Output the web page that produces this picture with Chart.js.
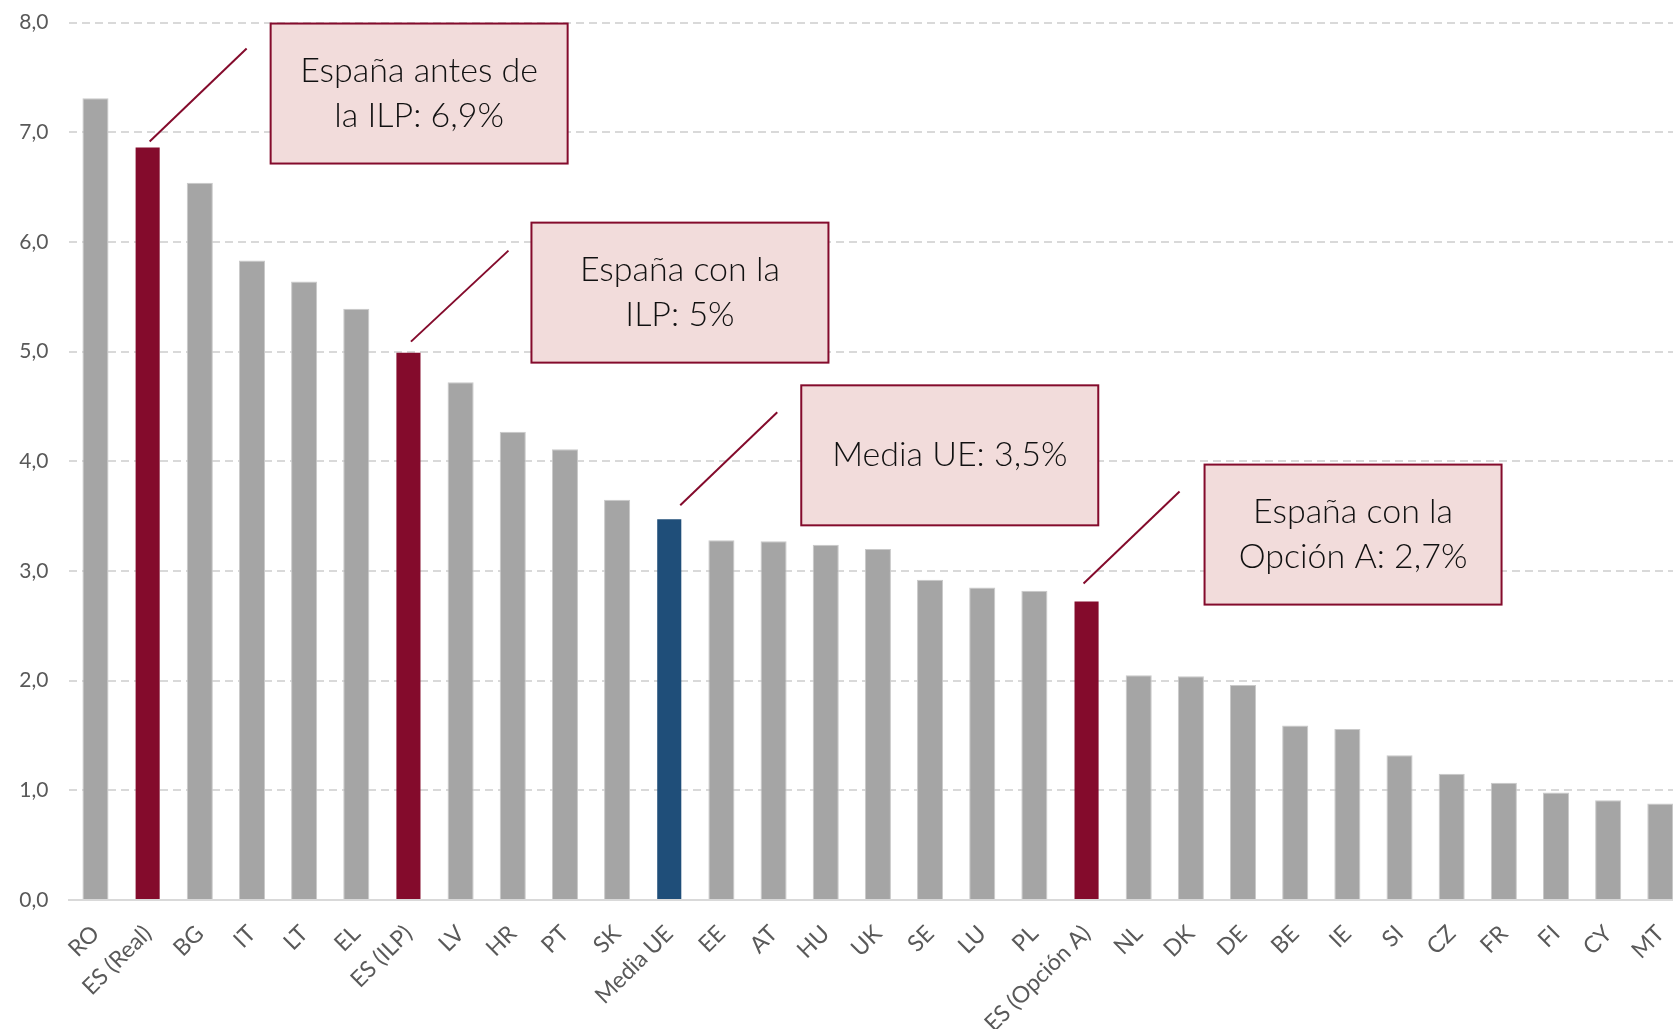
<!DOCTYPE html>
<html><head><meta charset="utf-8">
<script src="https://cdn.jsdelivr.net/npm/chart.js@4.4.1/dist/chart.umd.min.js"></script>
<style>
html,body{margin:0;padding:0;background:#fff;overflow:hidden;width:1673px;height:1029px;position:relative;}
#wrap{position:absolute;left:0;top:-11px;width:1700px;height:1040px;}
canvas{display:block;}
</style>
</head><body><div id="wrap"><canvas id="c" width="1700" height="1040" style="width:1700px;height:1040px"></canvas></div>
<script>
// ---- data ----
const categories = ['RO','ES (Real)','BG','IT','LT','EL','ES (ILP)','LV','HR','PT','SK','Media UE','EE','AT','HU','UK','SE','LU','PL','ES (Opción A)','NL','DK','DE','BE','IE','SI','CZ','FR','FI','CY','MT'];
const values = [7.31,6.87,6.54,5.83,5.64,5.39,5.00,4.72,4.27,4.11,3.65,3.48,3.28,3.27,3.24,3.20,2.92,2.85,2.82,2.73,2.05,2.04,1.96,1.59,1.56,1.32,1.15,1.07,0.98,0.91,0.88];
const yTickLabels = ['0,0','1,0','2,0','3,0','4,0','5,0','6,0','7,0','8,0'];
const spainCategories = ['ES (Real)','ES (ILP)','ES (Opción A)'];
const euCategories = ['Media UE'];
const calloutTargets = ['ES (Real)','ES (ILP)','Media UE','ES (Opción A)'];
const calloutTexts = [['España antes de','la ILP: 6,9%'],['España con la','ILP: 5%'],['Media UE: 3,5%'],['España con la','Opción A: 2,7%']];

// ---- styles ----
const RED = '#840B2C', BLUE = '#1F4E79', GRAY = '#A5A5A5';
const barColors = categories.map(c => spainCategories.includes(c) ? RED : (euCategories.includes(c) ? BLUE : GRAY));
const barBorders = categories.map(c => (spainCategories.includes(c) || euCategories.includes(c)) ? 'rgba(0,0,0,0)' : '#C9C9C9');
const calloutLayout = [
  {boxDx:123, boxDy:-123, from:[99,-98],  to:[2,-5]},
  {boxDx:123, boxDy:-129, from:[100,-101], to:[2.5,-10]},
  {boxDx:132, boxDy:-133, from:[108,-106], to:[11,-13]},
  {boxDx:118, boxDy:-136, from:[93,-109], to:[-3,-17]}
];
const BOX_W = 297, BOX_H = 140;

const calloutPlugin = {
  id: 'callouts',
  afterDatasetsDraw(chart) {
    const ctx = chart.ctx, xs = chart.scales.x, ys = chart.scales.y;
    calloutTargets.forEach((cat, i) => {
      const idx = categories.indexOf(cat);
      const cx = xs.getPixelForValue(idx);
      const cy = ys.getPixelForValue(values[idx]);
      const L = calloutLayout[i];
      ctx.save();
      ctx.strokeStyle = RED; ctx.lineWidth = 2;
      ctx.beginPath();
      ctx.moveTo(cx + L.from[0], cy + L.from[1]);
      ctx.lineTo(cx + L.to[0], cy + L.to[1]);
      ctx.stroke();
      const bx = cx + L.boxDx, by = cy + L.boxDy;
      ctx.fillStyle = '#F2DCDB';
      ctx.fillRect(bx, by, BOX_W, BOX_H);
      ctx.strokeStyle = RED; ctx.lineWidth = 2;
      ctx.strokeRect(bx, by, BOX_W, BOX_H);
      ctx.fillStyle = '#111111';
      ctx.font = '300 34px Lato';
      ctx.textAlign = 'center'; ctx.textBaseline = 'middle';
      const lines = calloutTexts[i];
      const lh = 44.8;
      const midY = by + BOX_H / 2;
      lines.forEach((t, k) => {
        ctx.fillText(t, bx + BOX_W / 2, midY + (k - (lines.length - 1) / 2) * lh);
      });
      ctx.restore();
    });
  }
};

function draw() {
  new Chart(document.getElementById('c'), {
    type: 'bar',
    data: {
      labels: categories,
      datasets: [{
        data: values,
        backgroundColor: barColors,
        borderColor: barBorders,
        borderWidth: 1,
        categoryPercentage: 1.0,
        barPercentage: 0.5
      }]
    },
    options: {
      responsive: false,
      animation: false,
      events: [],
      layout: { padding: { left: 0, right: 9, top: 10, bottom: 0 } },
      plugins: { legend: { display: false }, tooltip: { enabled: false } },
      scales: {
        x: {
          grid: { display: false, drawTicks: false },
          border: { display: true, color: '#D9D9D9', width: 2 },
          ticks: {
            autoSkip: false, minRotation: 45, maxRotation: 45,
            color: '#595959', font: { family: 'Lato', size: 23 }, padding: 20
          },
          afterFit(s) { s.height = 129; }
        },
        y: {
          min: 0, max: 8,
          grid: { color: '#D9D9D9', lineWidth: 2, drawTicks: false },
          border: { display: false, dash: [8, 5] },
          ticks: {
            stepSize: 1, color: '#595959', font: { family: 'Lato', size: 21 }, padding: 21,
            callback: (v, i) => yTickLabels[i]
          },
          afterFit(s) { s.width = 69.4; }
        }
      }
    },
    plugins: [calloutPlugin]
  });
}
Promise.all([document.fonts.load('300 34px Lato'), document.fonts.load('23px Lato')]).then(draw, draw);
</script>
</body></html>
